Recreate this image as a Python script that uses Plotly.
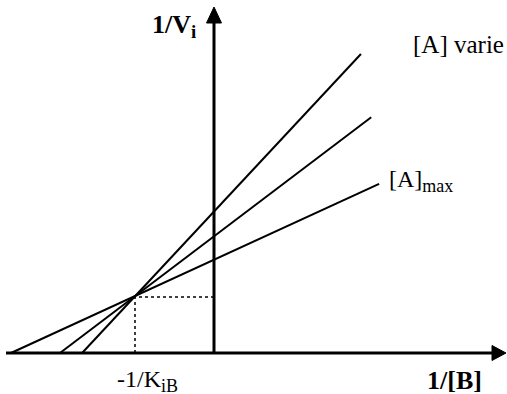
import plotly.graph_objects as go

# ---- data (1/[B] vs 1/Vi) ----
x_intercepts = [-1.67, -1.95, -2.57]   # where each line meets the 1/[B] axis
x_ends = [1.86, 1.99, 2.09]             # right end of each line
y_ends = [5.34, 4.21, 3.02]             # 1/Vi at the right end
kib_x = -1.0                            # -1/KiB
kib_y = 1.0                             # common intersection height

W, H = 507, 394
OX, OY = 214, 353      # pixel of origin
SX, SY = 79.0, 56.0    # pixels per unit

def px2x(p):
    return (p - OX) / SX

def px2y(p):
    return (OY - p) / SY

fig = go.Figure()
for xi, xe, ye in zip(x_intercepts, x_ends, y_ends):
    fig.add_trace(go.Scatter(x=[xi, xe], y=[0, ye], mode="lines",
                             line=dict(color="black", width=2), hoverinfo="skip"))

# dotted guides
fig.add_trace(go.Scatter(x=[kib_x, kib_x, 0], y=[0, kib_y, kib_y], mode="lines",
                         line=dict(color="black", width=1.5, dash="dot"), hoverinfo="skip"))

shapes = []
# x axis
shapes.append(dict(type="line", xref="x", yref="y", x0=px2x(6), y0=0, x1=px2x(495), y1=0,
                   line=dict(color="black", width=3)))
shapes.append(dict(type="path", xref="x", yref="y",
                   path=f"M {px2x(492)} {px2y(345.5)} L {px2x(506)} {px2y(353)} L {px2x(492)} {px2y(360.5)} Z",
                   fillcolor="black", line=dict(color="black", width=1)))
# y axis
shapes.append(dict(type="line", xref="x", yref="y", x0=0, y0=0, x1=0, y1=px2y(20),
                   line=dict(color="black", width=3)))
shapes.append(dict(type="path", xref="x", yref="y",
                   path=f"M {px2x(206.5)} {px2y(23)} L {px2x(214)} {px2y(7)} L {px2x(221.5)} {px2y(23)} Z",
                   fillcolor="black", line=dict(color="black", width=1)))

FONT = "Liberation Serif, Times New Roman, Times, serif"
ann = [
    dict(x=px2x(150), y=px2y(26), text="<b>1/V<sub><span style='font-size:19px'>i</span></sub></b>",
         xanchor="left", yanchor="middle", font=dict(size=26)),
    dict(x=px2x(411), y=px2y(44), text="[A] varie", xanchor="left", yanchor="middle",
         font=dict(size=25)),
    dict(x=px2x(387), y=px2y(181), text="[A]<sub><span style='font-size:18px'>max</span></sub>",
         xanchor="left", yanchor="middle", font=dict(size=24)),
    dict(x=px2x(115), y=px2y(381), text="-1/K<sub><span style='font-size:18px'>iB</span></sub>",
         xanchor="left", yanchor="middle", font=dict(size=24)),
    dict(x=px2x(484), y=px2y(380), text="<b>1/[B]</b>", xanchor="right", yanchor="middle",
         font=dict(size=26)),
]
for a in ann:
    a.update(xref="x", yref="y", showarrow=False)
    a["font"].update(family=FONT, color="black")

fig.update_layout(
    width=W, height=H,
    margin=dict(l=0, r=0, t=0, b=0),
    paper_bgcolor="white", plot_bgcolor="white",
    showlegend=False,
    font=dict(family=FONT),
    xaxis=dict(range=[px2x(0), px2x(W)], visible=False, fixedrange=True),
    yaxis=dict(range=[px2y(H), px2y(0)], visible=False, fixedrange=True),
    shapes=shapes, annotations=ann,
)
fig.write_html("out.html", config={"displayModeBar": False},
               post_script="document.body.style.margin='0';document.body.style.overflow='hidden';")
